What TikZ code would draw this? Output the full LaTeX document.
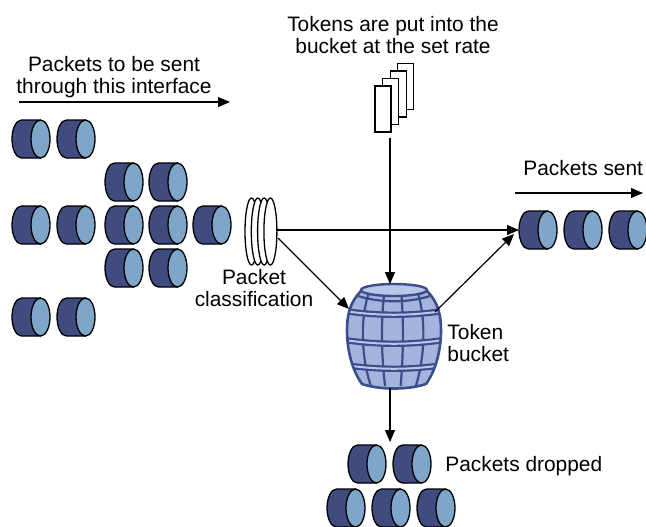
\documentclass[tikz,border=0pt]{standalone}
\usepackage{fontspec}
\setmainfont{Liberation Sans}
\usetikzlibrary{arrows.meta}
\definecolor{pktdark}{HTML}{404C80}
\definecolor{pktlight}{HTML}{7DA6C9}
\definecolor{barfill}{HTML}{A3B5DD}
\definecolor{barrim}{HTML}{B9C7E8}
\definecolor{barline}{HTML}{3D4C8A}
% outline of the barrel body
\def\barrelshape{(361,291) .. controls (350,302) and (347,315) .. (347,330)
  .. controls (347,350) and (352,370) .. (362,384)
  .. controls (380,390) and (408,390) .. (426,384)
  .. controls (436,370) and (441,350) .. (441,330)
  .. controls (441,315) and (438,302) .. (427,291) -- cycle}
\begin{document}
\begin{tikzpicture}[x=0.5pt,y=-0.5pt,
  lbl/.style={font=\fontsize{10.45}{11}\selectfont, inner sep=0pt},
  flow/.style={line width=0.6pt, -{Triangle[length=6pt,width=5pt]}},
  pktline/.style={line width=0.65pt, draw=black},
  tokenbox/.style={line width=0.65pt, draw=black, fill=white},
  ring/.style={line width=0.65pt, draw=black, fill=white},
  stave/.style={line width=1.1pt, draw=barline},
  pics/pkt/.style={code={
    \path[pktline, fill=pktdark] (9.5,-19) -- (-9.5,-19)
      arc[start angle=270, end angle=90, x radius=9.5, y radius=19]
      -- (9.5,19) -- cycle;
    \path[pktline, fill=pktlight] (9.5,0) ellipse[x radius=9.5, y radius=19];
  }}
]
\useasboundingbox (0,0) rectangle (646,526);

% ---- labels (two-line labels sit on the baseline of their last line)
\node[lbl, anchor=base, align=center] (txtq) at (114,93) {Packets to be sent\\through this interface};
\node[lbl, anchor=base, align=center] (txttok) at (393,53) {Tokens are put into the\\bucket at the set rate};
\node[lbl, anchor=base west] (txtsent) at (523,175) {Packets sent};
\node[lbl, anchor=base, align=center] (txtcls) at (254,306) {Packet\\classification};
\node[lbl, anchor=base west, align=left] (txtbkt) at (447,361) {Token\\bucket};
\node[lbl, anchor=base west] (txtdrop) at (445,471) {Packets dropped};

% ---- queued packets
\foreach \x/\y [count=\i] in {31/139, 76/139, 124/182, 168/182,
    31/225, 76/225, 124/225, 168/225, 212/225,
    124/268, 168/268, 31/317, 76/317}
  \pic (in\i) at (\x,\y) {pkt};

% ---- sent packets
\foreach \x [count=\i] in {538,583,628}
  \pic (out\i) at (\x,230) {pkt};

% ---- dropped packets
\foreach \x/\y [count=\i] in {367/464, 412/464, 346/508, 391/508, 436/508}
  \pic (drop\i) at (\x,\y) {pkt};

% ---- tokens
\foreach \i in {3,2,1,0}
  \draw[tokenbox] ({375+7.6*\i},{86-7.5*\i}) rectangle +(16,46);

% ---- classifier rings
\foreach \i in {0,...,3}
  \path[ring] ({251.5+6.3*\i},231.5) ellipse[x radius=6.5, y radius=33.5];

% ---- token bucket (barrel)
\fill[barfill] \barrelshape;
\begin{scope}
  \clip \barrelshape;
  \foreach \f in {-0.7,-0.27,0.2,0.66}
    \draw[stave] ({394+35*\f},291) .. controls ({394+48*\f},315) and ({394+48*\f},355) .. ({394+33*\f},386);
  \foreach \y in {311,340,365} {
    \draw[barline, line width=3.2pt] (344,\y) .. controls (380,\y+5) and (408,\y+5) .. (444,\y);
    \draw[barrim, line width=1pt] (344,\y) .. controls (380,\y+5) and (408,\y+5) .. (444,\y);
  }
  \draw[barline, line width=1.1pt] (358,296) .. controls (380,303) and (408,303) .. (430,296);
\end{scope}
\draw[barline, line width=1.3pt, line join=round] \barrelshape;
\draw[barline, line width=1.2pt, fill=barrim] (394,290) ellipse[x radius=33, y radius=6];

% ---- connector end points
\coordinate (qa) at (19,102);   \coordinate (qb) at (230,102);
\coordinate (sa) at (515,193);  \coordinate (sb) at (643,193);
\coordinate (tok) at (390,138); \coordinate (rimtop) at (390,284);
\coordinate (clsE) at (277,230); \coordinate (clsSE) at (278,238);
\coordinate (outW) at (519,230); \coordinate (outSW) at (514,234);
\coordinate (bktNW) at (349,309); \coordinate (bktNE) at (435,312);
\coordinate (bktS) at (390,388); \coordinate (dropN) at (390,442);

% ---- connectors
\draw[flow] (qa) -- (qb);
\draw[flow] (sa) -- (sb);
\draw[flow] (tok) -- (rimtop);
\draw[flow] (clsE) -- (outW);
\draw[flow] (clsSE) -- (bktNW);
\draw[flow] (bktNE) -- (outSW);
\draw[flow] (bktS) -- (dropN);
\end{tikzpicture}
\end{document}
